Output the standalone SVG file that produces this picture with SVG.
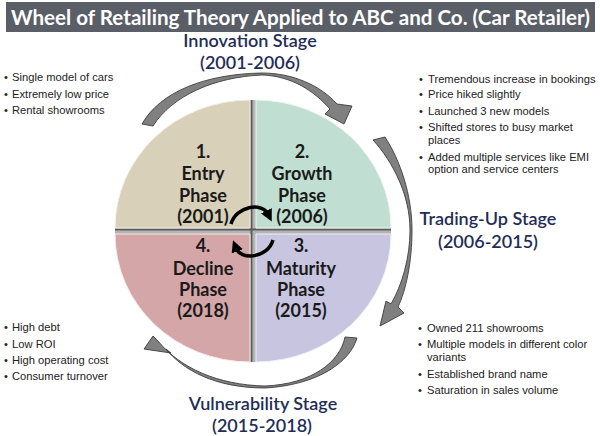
<svg xmlns="http://www.w3.org/2000/svg" width="600" height="436" viewBox="0 0 600 436">
<defs>
<style>
.title{font-family:Lato,"Liberation Sans",sans-serif;font-weight:bold;font-size:21px;fill:#ffffff}
.stage{font-family:Lato,"Liberation Sans",sans-serif;font-weight:600;font-size:18px;fill:#1f2d57;text-anchor:middle}
.ph{font-family:Lato,"Liberation Sans",sans-serif;font-weight:bold;font-size:18px;fill:#1a1a1a;text-anchor:middle}
.li{font-family:"Liberation Sans",Arial,sans-serif;font-size:11.2px;fill:#222222}
.ga{fill:#808080;stroke:#3c3c3c;stroke-width:0.9;stroke-linejoin:round}
.ba{fill:none;stroke:#000000;stroke-width:3.5;marker-end:url(#ah)}
</style>
<marker id="ah" markerUnits="userSpaceOnUse" markerWidth="12" markerHeight="12" viewBox="0 0 10 10" refX="3" refY="5" orient="auto">
<path d="M0,0 L10,5 L0,10 Z" fill="#000000"/>
</marker>
</defs>
<rect x="0" y="0" width="600" height="436" fill="#ffffff"/>
<g id="title">
<rect x="6" y="2" width="589" height="30" fill="#5a5e67"/>
<text class="title" x="11" y="25" textLength="579" lengthAdjust="spacingAndGlyphs">Wheel of Retailing Theory Applied to ABC and Co. (Car Retailer)</text>
</g>
<g id="wheel">
<rect x="250" y="100" width="6" height="262" fill="#b4b4b4"/>
<rect x="115" y="228" width="276" height="6" fill="#b4b4b4"/>
<line x1="251.5" y1="100" x2="251.5" y2="362" stroke="#5c5c5c" stroke-width="2"/>
<line x1="115" y1="229.5" x2="391" y2="229.5" stroke="#5c5c5c" stroke-width="2"/>
</g>
<g id="entry">
<path d="M250,228 H115 A135,128 0 0 1 250,100 Z" fill="#d8d0b8" stroke="#f2f0ea" stroke-width="1"/>
<text class="ph" x="203" y="158">1.</text>
<text class="ph" x="203" y="180">Entry</text>
<text class="ph" x="203" y="202">Phase</text>
<text class="ph" x="203" y="223">(2001)</text>
</g>
<g id="growth">
<path d="M256,228 V100 A135,128 0 0 1 391,228 Z" fill="#c0dfd2" stroke="#eef6f2" stroke-width="1"/>
<text class="ph" x="302" y="158">2.</text>
<text class="ph" x="302" y="180">Growth</text>
<text class="ph" x="302" y="202">Phase</text>
<text class="ph" x="302" y="223">(2006)</text>
</g>
<g id="maturity">
<path d="M256,234 H391 A135,128 0 0 1 256,362 Z" fill="#c8c5e0" stroke="#f0eff7" stroke-width="1"/>
<text class="ph" x="301" y="252">3.</text>
<text class="ph" x="301" y="275">Maturity</text>
<text class="ph" x="301" y="296">Phase</text>
<text class="ph" x="301" y="317">(2015)</text>
</g>
<g id="decline">
<path d="M250,234 V362 A135,128 0 0 1 115,234 Z" fill="#d4a6a7" stroke="#f4eaea" stroke-width="1"/>
<text class="ph" x="203" y="252">4.</text>
<text class="ph" x="203" y="275">Decline</text>
<text class="ph" x="203" y="296">Phase</text>
<text class="ph" x="203" y="317">(2018)</text>
</g>
<g id="connectors">
<path class="ga" d="M142,124 C160,92 205,74 262,73 C292,73 320,85 337,104 L352,106 L344,124 L325,114 L330,109 C314,91 292,76 262,75 C214,77 172,96 153,126 Z"/>
<path class="ga" d="M385,137 C400,160 412,195 412,230 C412,262 406,290 398,307 L404,313 L380,326 L386,301 L391,304 C402,285 410,258 410,230 C410,195 393,162 373,140 Z"/>
<path class="ga" d="M357,338 C350,362 318,385 265,388 C215,388 183,370 166,349 L171,353 L144,349 L153,336 L158,341 C180,368 218,385 265,386 C312,384 340,362 345,337 Z"/>
<path class="ba" d="M231,224 C236,206 262,202 268,214"/>
<path class="ba" d="M273,240 C268,258 241,261 236,248"/>
</g>
<g id="innovation">
<text class="stage" x="250" y="47">Innovation Stage</text>
<text class="stage" x="250" y="69">(2001-2006)</text>
</g>
<g id="tradingup">
<text class="stage" x="488" y="225">Trading-Up Stage</text>
<text class="stage" x="488" y="248">(2006-2015)</text>
</g>
<g id="vulnerability">
<text class="stage" x="263" y="410">Vulnerability Stage</text>
<text class="stage" x="262" y="432">(2015-2018)</text>
</g>
<g id="list-entry">
<text class="li" y="81"><tspan x="4">•</tspan><tspan x="12">Single model of cars</tspan></text>
<text class="li" y="98"><tspan x="4">•</tspan><tspan x="12">Extremely low price</tspan></text>
<text class="li" y="114"><tspan x="4">•</tspan><tspan x="12">Rental showrooms</tspan></text>
</g>
<g id="list-growth">
<text class="li" y="82.5"><tspan x="419">•</tspan><tspan x="428">Tremendous increase in bookings</tspan></text>
<text class="li" y="98"><tspan x="419">•</tspan><tspan x="428">Price hiked slightly</tspan></text>
<text class="li" y="114.5"><tspan x="419">•</tspan><tspan x="428">Launched 3 new models</tspan></text>
<text class="li" y="131"><tspan x="419">•</tspan><tspan x="428">Shifted stores to busy market</tspan></text>
<text class="li" y="143.5"><tspan x="428">places</tspan></text>
<text class="li" y="160.5"><tspan x="419">•</tspan><tspan x="428">Added multiple services like EMI</tspan></text>
<text class="li" y="173"><tspan x="428">option and service centers</tspan></text>
</g>
<g id="list-decline">
<text class="li" y="331"><tspan x="4">•</tspan><tspan x="12">High debt</tspan></text>
<text class="li" y="347.5"><tspan x="4">•</tspan><tspan x="12">Low ROI</tspan></text>
<text class="li" y="364"><tspan x="4">•</tspan><tspan x="12">High operating cost</tspan></text>
<text class="li" y="380"><tspan x="4">•</tspan><tspan x="12">Consumer turnover</tspan></text>
</g>
<g id="list-maturity">
<text class="li" y="332"><tspan x="418">•</tspan><tspan x="427">Owned 211 showrooms</tspan></text>
<text class="li" y="348"><tspan x="418">•</tspan><tspan x="427">Multiple models in different color</tspan></text>
<text class="li" y="361"><tspan x="427">variants</tspan></text>
<text class="li" y="378"><tspan x="418">•</tspan><tspan x="427">Established brand name</tspan></text>
<text class="li" y="394"><tspan x="418">•</tspan><tspan x="427">Saturation in sales volume</tspan></text>
</g>
</svg>
